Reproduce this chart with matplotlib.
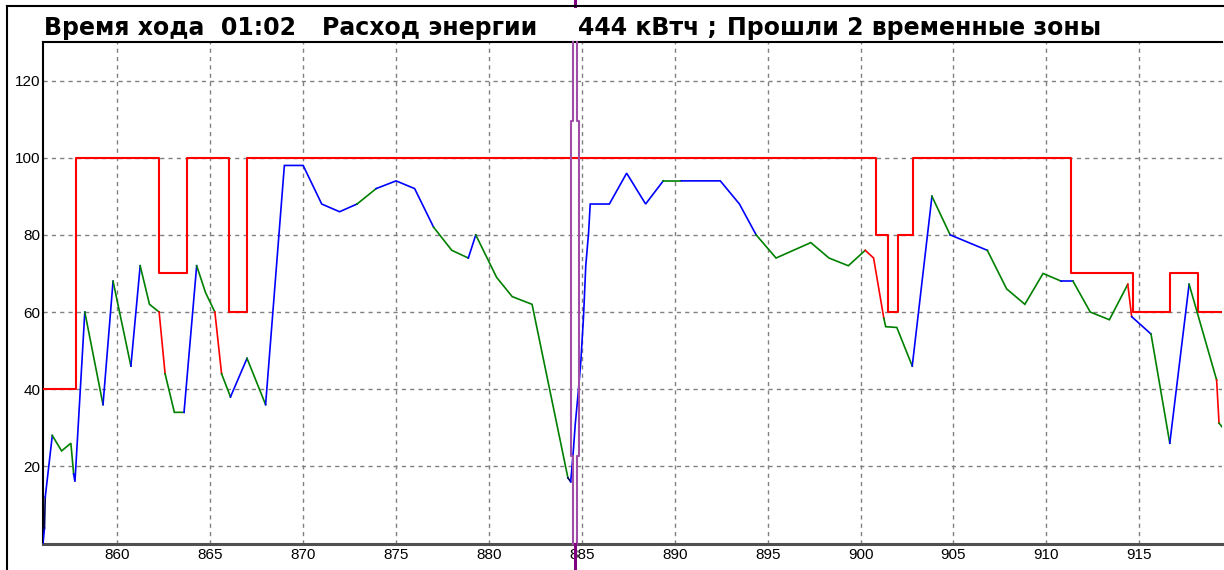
import matplotlib
matplotlib.use("Agg")
import matplotlib.pyplot as plt
from matplotlib.lines import Line2D

plt.rcParams['font.family'] = ['Liberation Sans', 'DejaVu Sans']

# speed limit (step, value holds until next km mark)
limit_km = [856.0, 857.75, 862.25, 863.75, 866.02, 867.0, 900.82, 901.47,
            902.0, 902.8, 911.35, 914.68, 916.66, 918.18, 919.45]
limit_kmh = [40, 100, 70, 100, 60, 100, 80, 60, 80, 100, 70, 60, 70, 60, 60]

# actual speed; mode = colour of segment leading to next point
# b - traction, g - coasting, r - braking, k - dark
speed_km = [856.00, 856.08, 856.12, 856.50, 857.00, 857.50, 857.65, 857.72,
            858.25, 859.23, 859.77, 860.73, 861.23, 861.73, 862.25, 862.57,
            863.07, 863.59, 864.27, 864.75, 865.25, 865.61, 866.09, 866.98,
            867.98, 868.99, 870.00, 871.00, 871.96, 872.90, 873.93, 875.00,
            876.00, 877.02, 878.00, 878.89, 879.29, 880.41, 881.25, 882.32,
            884.25, 884.40, 884.55, 884.64, 884.82, 884.95, 885.09, 885.21,
            885.36, 885.45, 886.48, 887.41, 888.43, 889.38, 890.36, 892.45,
            893.48, 894.38, 895.45, 897.32, 898.30, 899.34, 900.25, 900.70,
            901.25, 901.35, 901.95, 902.78, 903.84, 904.82, 906.82, 907.86,
            908.84, 909.82, 910.80, 911.43, 912.36, 913.39, 914.38, 914.59,
            915.63, 916.64, 917.68, 919.16, 919.29, 919.46]
speed_kmh = [0, 4, 12, 28, 24, 26, 18, 16,
             60, 36, 68, 46, 72, 62, 60, 44,
             34, 34, 72, 65, 60, 44, 38, 48,
             36, 98, 98, 88, 86, 88, 92, 94,
             92, 82, 76, 74, 80, 69, 64, 62,
             17, 16, 24.6, 30.7, 40, 47.6, 58.9, 72,
             80.5, 88, 88, 96, 88, 94, 94, 94,
             88, 80, 74, 78, 74, 72, 76, 74,
             58.4, 56.2, 56, 46, 90, 80, 76, 66,
             62, 70, 68, 68, 60, 58, 67.2, 58.8,
             54.3, 26, 67.2, 42.4, 31.2, 30.2]
speed_mode = ("bkbgggbb" "gbgbggrg" "gbggrgbg" "bbbbbgbb" "bggbgggg"
              "kbbbbbbb" "bbbbbgbb" "bgggggrr" "gggbgbgg" "ggbgggrb" "gbgrg")

cursor_km = 884.64
xticks = list(range(860, 916, 5))
yticks = [20, 40, 60, 80, 100, 120]
title_parts = ["Время хода  01:02", "Расход энергии", "444 кВтч ;", "Прошли 2 временные зоны"]
title_px = [44, 322, 578, 727]

mode_colors = {'b': '#0000FF', 'g': '#008000', 'r': '#FF0000', 'k': '#000060'}

W, H = 1224, 570
fig = plt.figure(figsize=(W / 100, H / 100), dpi=100)
ax = fig.add_axes([43 / W, 26.5 / H, (1222 - 43) / W, (543.5 - 42) / H])

ax.set_xlim(856.0, 919.45)
ax.set_ylim(0, 130)
ax.set_xticks(xticks)
ax.set_yticks(yticks)
ax.grid(True, color='#808080', linestyle=(0, (3, 3)), linewidth=1.0)
ax.tick_params(axis='both', length=0, labelsize=11, colors='black')
ax.tick_params(axis='y', pad=2)
ax.tick_params(axis='x', pad=3)
ax.set_axisbelow(True)

ax.spines['left'].set_linewidth(1.5)
ax.spines['top'].set_linewidth(1.5)
ax.spines['bottom'].set_color('#505050')
ax.spines['bottom'].set_linewidth(2.2)
ax.spines['right'].set_visible(False)

# speed limit
ax.step(limit_km, limit_kmh, where='post', color='#FF0000', linewidth=1.5, zorder=3)

# speed curve, drawn in runs of same colour
i = 0
n = len(speed_mode)
while i < n:
    j = i
    while j + 1 < n and speed_mode[j + 1] == speed_mode[i]:
        j += 1
    ax.plot(speed_km[i:j + 2], speed_kmh[i:j + 2], color=mode_colors[speed_mode[i]],
            linewidth=1.2, zorder=4, solid_joinstyle='miter')
    i = j + 1

# cursor marker (double purple line)
purple = '#A04CA8'
for side in (-1, 1):
    xs = [cursor_km + side * 0.1, cursor_km + side * 0.1, cursor_km + side * 0.2,
          cursor_km + side * 0.2, cursor_km + side * 0.1, cursor_km + side * 0.1]
    ys = [130, 109.6, 109.6, 22.7, 22.7, 0]
    ax.plot(xs, ys, color=purple, linewidth=1.5, zorder=5, clip_on=False)

# cursor line outside the plot
cx = ax.transData.transform((cursor_km, 0))[0] / W
fig.add_artist(Line2D([cx, cx], [0, 26.5 / H], color='#800080', linewidth=2.2))
fig.add_artist(Line2D([cx, cx], [(H - 6) / H, 1], color='#800080', linewidth=2.2))

# title pieces
for txt, px in zip(title_parts, title_px):
    fig.text(px / W, (H - 35) / H, txt, fontsize=17, va='baseline', ha='left',
             family='DejaVu Sans', weight='bold')

# outer frame
fig.add_artist(Line2D([7 / W, 7 / W], [0, (H - 6) / H], color='black', linewidth=1.5))
fig.add_artist(Line2D([7 / W, 1], [(H - 6) / H, (H - 6) / H], color='black', linewidth=1.5))

fig.savefig('out.png', dpi=100)
